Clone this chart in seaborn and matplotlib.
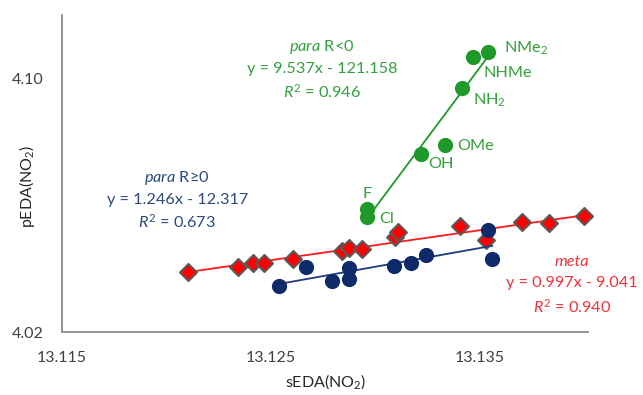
import matplotlib
matplotlib.use("Agg")
import matplotlib.pyplot as plt
import seaborn as sns
import pandas as pd

# ---- data ----
meta_x = [13.12103, 13.12342, 13.12414, 13.12467, 13.12605, 13.12840, 13.12873,
          13.12935, 13.13093, 13.13108, 13.13409, 13.13533, 13.13706, 13.13835, 13.14000]
meta_y = [4.0389, 4.0405, 4.0417, 4.0417, 4.0430, 4.0455, 4.0465,
          4.0461, 4.0499, 4.0515, 4.0534, 4.0490, 4.0546, 4.0543, 4.0565]

pos_x = [13.12538, 13.12667, 13.12792, 13.12873, 13.12873, 13.13089, 13.13170,
         13.13246, 13.13543, 13.13562]
pos_y = [4.0345, 4.0405, 4.0361, 4.0402, 4.0367, 4.0408, 4.0417,
         4.0443, 4.0521, 4.0430]

neg_labels = ["F", "Cl", "OH", "OMe", "NH$_2$", "NHMe", "NMe$_2$"]
neg_x = [13.12959, 13.12959, 13.13218, 13.13337, 13.13414, 13.13471, 13.13543]
neg_y = [4.0587, 4.0562, 4.0761, 4.0789, 4.0969, 4.1069, 4.1082]

x_ticks = [13.115, 13.125, 13.135]
y_ticks = [4.02, 4.10]

sns.set_theme(style="white")
plt.rcParams["font.family"] = ["Lato", "DejaVu Sans"]
plt.rcParams["mathtext.fontset"] = "custom"
plt.rcParams["mathtext.rm"] = "Lato"
plt.rcParams["mathtext.it"] = "Lato:italic"
plt.rcParams["mathtext.bf"] = "Lato:bold"

GREEN = "#1f9a2a"
GREEN_T = "#34a03c"
NAVY = "#0e2a6b"
NAVY_L = "#1f3a7a"
NAVY_T = "#2c4a7c"
RED = "#ff0000"
RED_T = "#f0323c"

fig = plt.figure(figsize=(6.43, 3.95), dpi=100)
ax = fig.add_axes([62 / 643, 1 - 332 / 395, 526 / 643, 317 / 395])

df_meta = pd.DataFrame({"x": meta_x, "y": meta_y})
df_pos = pd.DataFrame({"x": pos_x, "y": pos_y})
df_neg = pd.DataFrame({"x": neg_x, "y": neg_y})

sns.regplot(data=df_meta, x="x", y="y", ax=ax, ci=None, truncate=True, marker="D",
            scatter_kws=dict(s=75, color=RED, edgecolor="#5a5a5a", linewidths=1.5,
                             alpha=1, clip_on=False, zorder=3),
            line_kws=dict(color="#ff1a1a", lw=1.3, zorder=2))
sns.regplot(data=df_pos, x="x", y="y", ax=ax, ci=None, truncate=True, marker="o",
            scatter_kws=dict(s=120, color=NAVY, edgecolor=NAVY, linewidths=0,
                             alpha=1, zorder=5),
            line_kws=dict(color=NAVY_L, lw=1.3, zorder=4))
sns.regplot(data=df_neg, x="x", y="y", ax=ax, ci=None, truncate=True, marker="o",
            scatter_kws=dict(s=120, color=GREEN, edgecolor=GREEN, linewidths=0,
                             alpha=1, zorder=7),
            line_kws=dict(color=GREEN, lw=1.3, zorder=6))

fs = 11.7
offsets = [(0.7, 10.8), (14.4, -1.4), (15, -7.2), (22, -0.7), (20, -8.6), (24.5, -12), (27, 2.7)]
for lab, x, y, off in zip(neg_labels, neg_x, neg_y, offsets):
    ax.annotate(lab, (x, y), xytext=off, textcoords="offset points",
                ha="center", va="center", color=GREEN_T, fontsize=fs)

ax.text(0.494, 0.899, r"$\it{para}$ R<0", transform=ax.transAxes, ha="center", va="center",
        color=GREEN_T, fontsize=fs)
ax.text(0.494, 0.830, "y = 9.537x - 121.158", transform=ax.transAxes, ha="center",
        va="center", color=GREEN_T, fontsize=fs)
ax.text(0.494, 0.757, r"$\it{R}^{\rm 2}$ = 0.946", transform=ax.transAxes, ha="center",
        va="center", color=GREEN_T, fontsize=fs)

ax.text(0.219, 0.486, r"$\it{para}$ R≥0", transform=ax.transAxes, ha="center", va="center",
        color=NAVY_T, fontsize=fs)
ax.text(0.219, 0.416, "y = 1.246x - 12.317", transform=ax.transAxes, ha="center",
        va="center", color=NAVY_T, fontsize=fs)
ax.text(0.219, 0.347, r"$\it{R}^{\rm 2}$ = 0.673", transform=ax.transAxes, ha="center",
        va="center", color=NAVY_T, fontsize=fs)

ax.text(0.970, 0.221, "meta", transform=ax.transAxes, ha="center", va="center",
        color=RED_T, fontsize=fs, fontstyle="italic")
ax.text(0.970, 0.155, "y = 0.997x - 9.041", transform=ax.transAxes, ha="center",
        va="center", color=RED_T, fontsize=fs)
ax.text(0.970, 0.079, r"$\it{R}^{\rm 2}$ = 0.940", transform=ax.transAxes, ha="center",
        va="center", color=RED_T, fontsize=fs)

ax.set_xlim(13.115, 13.1402)
ax.set_ylim(4.02, 4.12)
ax.set_xticks(x_ticks)
ax.set_xticklabels([f"{v:.3f}" for v in x_ticks])
ax.set_yticks(y_ticks)
ax.set_yticklabels([f"{v:.2f}" for v in y_ticks])
ax.tick_params(axis="both", direction="out", length=4, width=1, color="#8c8c8c",
               labelsize=11.5, labelcolor="#404040", pad=4)
ax.tick_params(axis="x", pad=10)
ax.tick_params(axis="y", pad=9)
for side in ["top", "right"]:
    ax.spines[side].set_visible(False)
for side in ["left", "bottom"]:
    ax.spines[side].set_color("#8c8c8c")
    ax.spines[side].set_linewidth(1.3)
ax.set_xlabel("sEDA(NO$_2$)", fontsize=11.5, color="#262626", labelpad=5)
ax.set_ylabel("pEDA(NO$_2$)", fontsize=11.5, color="#262626", va="center")
ax.yaxis.set_label_coords(-0.0665, 0.46)
ax.grid(False)

fig.savefig("out.png", dpi=100)
